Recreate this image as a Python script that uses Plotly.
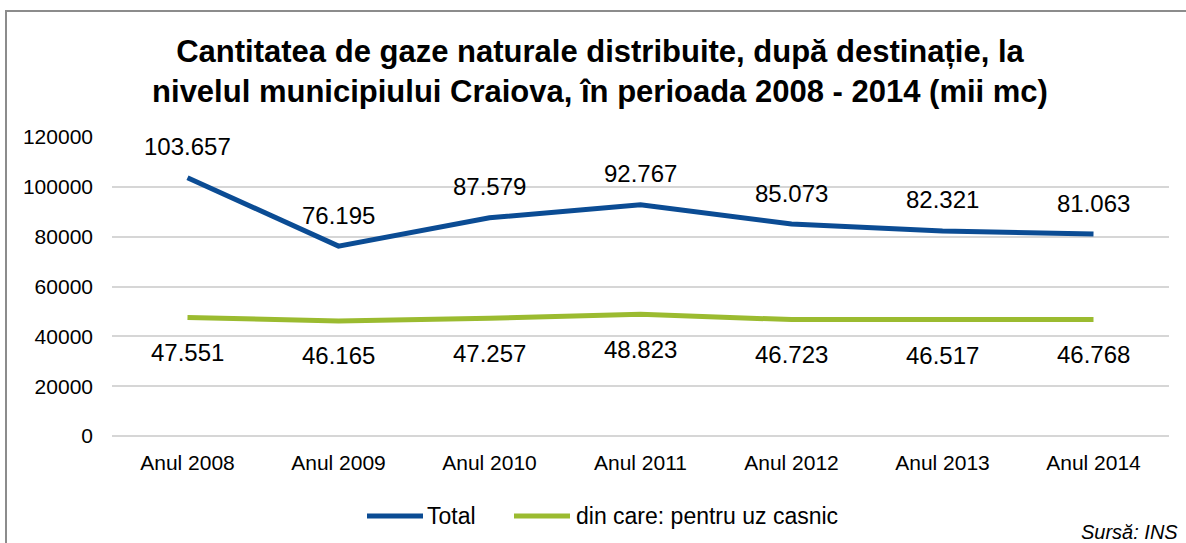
import plotly.graph_objects as go

# Annual natural gas distributed in Craiova (thousand m3)
years = ["Anul 2008", "Anul 2009", "Anul 2010", "Anul 2011", "Anul 2012", "Anul 2013", "Anul 2014"]
total = [103657, 76195, 87579, 92767, 85073, 82321, 81063]
household = [47551, 46165, 47257, 48823, 46723, 46517, 46768]

series_names = ["Total", "din care: pentru uz casnic"]
y_ticks = [0, 20000, 40000, 60000, 80000, 100000, 120000]

BLUE = "#0B4C94"
GREEN = "#9BBB30"
FONT = "Liberation Sans, Arial, sans-serif"

W, H = 1186, 543
ML, MR, MT, MB = 112, 17, 137, 107
PW, PH = W - ML - MR, H - MT - MB


def px_x(px):
    return (px - ML) / PW


def px_y(py):
    return (H - MB - py) / PH


def ro(v):
    return f"{v:,}".replace(",", ".")


fig = go.Figure()
fig.add_trace(go.Scatter(x=years, y=total, mode="lines", name=series_names[0],
                         line=dict(color=BLUE, width=5), showlegend=False))
fig.add_trace(go.Scatter(x=years, y=household, mode="lines", name=series_names[1],
                         line=dict(color=GREEN, width=5), showlegend=False))

annotations = []
for x, v in zip(years, total):
    annotations.append(dict(x=x, y=v, xref="x", yref="y", text=ro(v), showarrow=False,
                            yshift=31, font=dict(size=24, color="#000000", family=FONT)))
for x, v in zip(years, household):
    annotations.append(dict(x=x, y=v, xref="x", yref="y", text=ro(v), showarrow=False,
                            yshift=-35, font=dict(size=24, color="#000000", family=FONT)))

# legend drawn beneath the plot
legend_y = px_y(516)
shapes = [
    dict(type="rect", xref="paper", yref="paper", x0=px_x(6), x1=px_x(1200),
         y0=px_y(560), y1=px_y(11), line=dict(color="#8C8C8C", width=2), layer="below"),
    dict(type="line", xref="paper", yref="paper", x0=px_x(367), x1=px_x(423),
         y0=legend_y, y1=legend_y, line=dict(color=BLUE, width=5)),
    dict(type="line", xref="paper", yref="paper", x0=px_x(514), x1=px_x(570),
         y0=legend_y, y1=legend_y, line=dict(color=GREEN, width=5)),
]
annotations.append(dict(x=px_x(425), y=legend_y, xref="paper", yref="paper", text=series_names[0],
                        xanchor="left", yanchor="middle", showarrow=False,
                        font=dict(size=23, color="#000000", family=FONT)))
annotations.append(dict(x=px_x(574), y=legend_y, xref="paper", yref="paper", text=series_names[1],
                        xanchor="left", yanchor="middle", showarrow=False,
                        font=dict(size=23, color="#000000", family=FONT)))
annotations.append(dict(x=px_x(1180), y=px_y(532), xref="paper", yref="paper",
                        text="<i>Sursă: INS</i>", xanchor="right", yanchor="middle", showarrow=False,
                        font=dict(size=20, color="#000000", family=FONT)))

fig.update_layout(
    width=W, height=H,
    margin=dict(l=ML, r=MR, t=MT, b=MB),
    paper_bgcolor="white", plot_bgcolor="white",
    title=dict(text="<b>Cantitatea de gaze naturale distribuite, după destinație, la<br>"
                    "nivelul municipiului Craiova, în perioada 2008 - 2014 (mii mc)</b>",
               x=600 / W, xanchor="center", xref="container",
               y=1 - 62 / H, yanchor="middle", yref="container",
               font=dict(size=31, color="#000000", family=FONT)),
    xaxis=dict(type="category", range=[-0.5, 6.5], showgrid=False, showline=False,
               zeroline=False, ticks="", ticklabelstandoff=12,
               tickfont=dict(size=21, color="#000000", family=FONT)),
    yaxis=dict(range=[0, 120000], tickvals=y_ticks, tickformat="d", showgrid=True,
               gridcolor="#D6D6D6", gridwidth=1.5, zeroline=True, zerolinecolor="#D6D6D6",
               zerolinewidth=1.5, showline=False,
               ticks="", ticklabelstandoff=18,
               tickfont=dict(size=21, color="#000000", family=FONT)),
    shapes=shapes,
    annotations=annotations,
)

fig.write_html("out.html")
